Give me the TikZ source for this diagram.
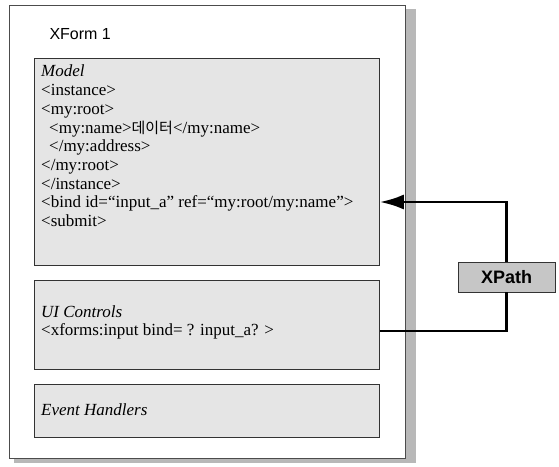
\documentclass[tikz,border=0pt]{standalone}
\usepackage{fontspec}
\setmainfont{Liberation Serif}
\setsansfont{Liberation Sans}
\newfontfamily\krfont{Noto Sans CJK KR}
\usetikzlibrary{positioning,arrows.meta}
\definecolor{PanelGray}{gray}{0.9}
\definecolor{ShadowGray}{gray}{0.72}

\begin{document}
\begin{tikzpicture}[x=1pt, y=-1pt,
  panel/.style={draw=black!80, fill=PanelGray, line width=0.8pt, anchor=north west, inner sep=0pt},
  code/.style={anchor=north west, align=left, font=\fontsize{17}{18.7}\selectfont, inner sep=0pt},
  link/.style={line width=2.8pt}]
  \useasboundingbox (0,0) rectangle (559,466);
  % outer form with shadow
  \fill[ShadowGray] (14,9) rectangle (416,463);
  \node[draw=black!70, fill=white, line width=0.8pt, anchor=north west, minimum width=396pt, minimum height=453pt, inner sep=0pt] (xform) at (9,5) {};
  \node[anchor=west, font=\sffamily\fontsize{16}{16}\selectfont] (title) at (46,34) {XForm 1};
  % model
  \node[panel, minimum width=345pt, minimum height=207pt] (model) at (34,58) {};
  \node[code] (modeltext) at (41,65) {\textit{Model}\\
    <instance>\\
    <my:root>\\
    \hspace{8pt}<my:name>{\krfont\fontsize{15}{15}\selectfont 데이터}</my:name>\\
    \hspace{8pt}</my:address>\\
    </my:root>\\
    </instance>\\
    <bind id=“input\_a” ref=“my:root/my:name”>\\
    <submit>};
  % ui controls
  \node[panel, minimum width=345pt, minimum height=89pt] (ui) at (34,280) {};
  \node[code] (uitext) at (41,305) {\textit{UI Controls}\\
    <xforms:input bind= ? input\_a? >};
  % events
  \node[panel, minimum width=345pt, minimum height=53pt] (events) at (34,384) {};
  \node[code, anchor=west] (eventtext) at (41,410) {\textit{Event Handlers}};
  % xpath
  \node[draw=black!80, fill=ShadowGray!80, line width=0.8pt, minimum width=97pt, minimum height=30pt, inner sep=0pt, font=\sffamily\bfseries\fontsize{18}{18}\selectfont] (xpath) at (506.5,277) {XPath};
  \coordinate (bindtip) at (model.east |- 0,202);
  \coordinate (uiend) at (ui.east |- 0,331);
  \draw[link, -{Latex[length=24pt,width=15pt]}] (xpath.north) |- (bindtip);
  \draw[link] (xpath.south) |- (uiend);
\end{tikzpicture}
\end{document}
